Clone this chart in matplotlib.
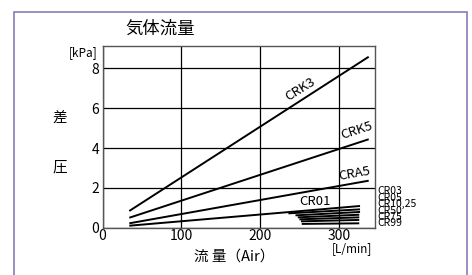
import matplotlib
matplotlib.use("Agg")
import matplotlib.pyplot as plt
from matplotlib.patches import Rectangle

plt.rcParams['font.family'] = ['Noto Sans CJK JP', 'DejaVu Sans']

# main curves: (x start, x end), (y start, y end)
main_names = ['CRK3', 'CRK5', 'CRA5', 'CR01']
main_x = [(34, 338), (34, 338), (34, 338), (34, 327)]
main_y = [(0.84, 8.58), (0.50, 4.44), (0.22, 2.36), (0.10, 1.09)]

# short curves bundle
small_names = ['CR03', 'CR05', 'CR10,25', 'CR50', 'CR75', 'CR99']
small_x = [(236, 327), (245, 327), (248, 326), (250, 326), (252, 326), (253, 326)]
small_y = [(0.72, 0.92), (0.62, 0.79), (0.52, 0.65), (0.42, 0.52), (0.32, 0.39), (0.19, 0.22)]

x_ticks = [0, 100, 200, 300]
y_ticks = [0, 2, 4, 6, 8]

fig = plt.figure(figsize=(4.72, 2.75), dpi=100)
ax = fig.add_axes([0.2172, 0.172, 0.5773, 0.6607])

for xs, ys in zip(main_x, main_y):
    ax.plot(xs, ys, color='black', lw=1.4, solid_capstyle='butt')
for xs, ys in zip(small_x, small_y):
    ax.plot(xs, ys, color='black', lw=1.4, solid_capstyle='butt')

ax.set_xlim(0, 346)
ax.set_ylim(0, 9.12)
ax.set_xticks(x_ticks)
ax.set_yticks(y_ticks)
ax.tick_params(length=0, labelsize=10, pad=2.5)
ax.tick_params(axis='x', pad=1)
ax.grid(True, color='black', lw=0.9)
for s in ax.spines.values():
    s.set_color('#555555')
    s.set_linewidth(1.0)

# curve labels
ax.text(251, 6.95, main_names[0], rotation=32, ha='center', va='center', fontsize=9.5)
ax.text(323, 4.85, main_names[1], rotation=18, ha='center', va='center', fontsize=9.5)
ax.text(320, 2.7, main_names[2], rotation=10, ha='center', va='center', fontsize=9.5)
ax.text(270, 1.32, main_names[3], ha='center', va='center', fontsize=9.5)

# bundle labels stacked tightly in one block
ax.text(348.4, 1.02, '\n'.join(small_names), ha='left', va='center',
        fontsize=7.5, linespacing=0.55, clip_on=False)

fig.text(160 / 472, 1 - 29 / 275, '気体流量', ha='center', va='center', fontsize=12.5)
fig.text(97 / 472, 1 - 52.5 / 275, '[kPa]', ha='right', va='center', fontsize=8.5)
fig.text(60 / 472, 1 - 118 / 275, '差', ha='center', va='center', fontsize=10.5)
fig.text(60 / 472, 1 - 168 / 275, '圧', ha='center', va='center', fontsize=10.5)
fig.text(234 / 472, 1 - 257 / 275, '流 量（Air）', ha='center', va='center', fontsize=10.5)
fig.text(352 / 472, 1 - 249 / 275, '[L/min]', ha='center', va='center', fontsize=8.5)

# purple frame
fig.patches.append(Rectangle((14 / 472, -0.1), (467 - 14) / 472, 1.1 - 12 / 275,
                             transform=fig.transFigure, fill=False,
                             edgecolor='#8a7cb8', lw=1.2))

fig.savefig('out.png', dpi=100)
